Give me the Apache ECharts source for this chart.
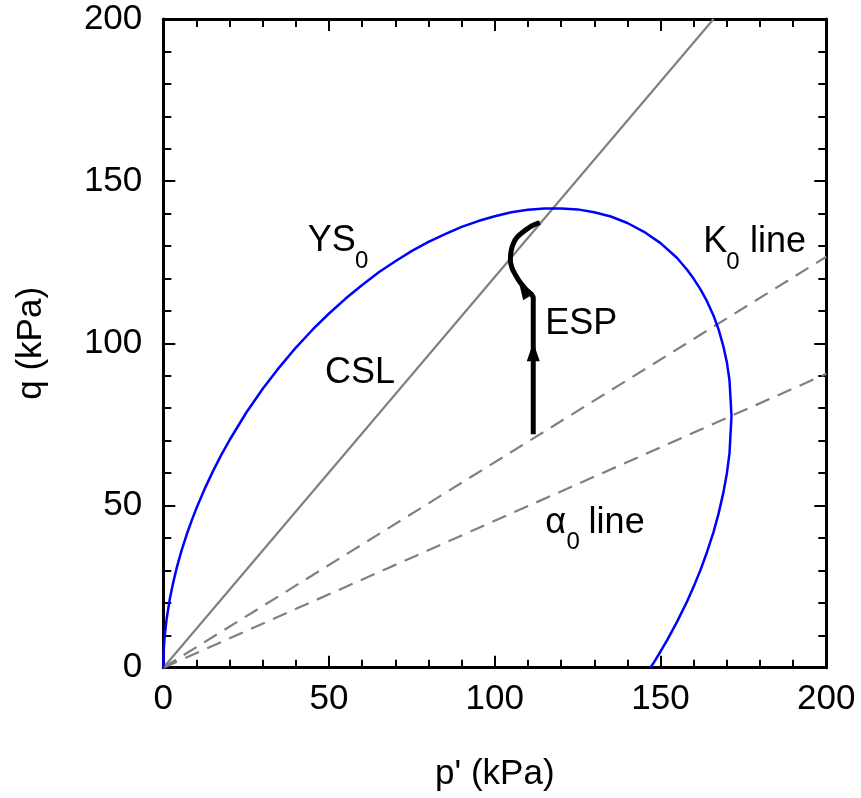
<!DOCTYPE html>
<html>
<head>
<meta charset="utf-8">
<script src="https://cdn.jsdelivr.net/npm/echarts@6/dist/echarts.min.js"></script>
<style>
  html, body { margin: 0; padding: 0; background: #fff; }
  #chart { width: 861px; height: 798px; }
</style>
</head>
<body>
<div id="chart"></div>
<script>
// Stress path in p'-q space

// Critical state line
const cslLine = [[0, 0], [166, 200]];
// K0 consolidation line
const k0Line = [[0, 0], [200, 126.7]];
// Inclination of the initial yield surface
const alphaLine = [[0, 0], [200, 90.6]];

// Initial yield surface YS0 (upper branch, then lower branch back to q = 0)
const ys0Curve = [
  [0, 0], [0.1, 4.6], [0.25, 7.4], [0.5, 10.5], [1, 15.0], [2, 21.4], [3, 26.3],
  [4, 30.6], [5.5, 36.1], [7, 40.9], [8.5, 45.2], [10, 49.2], [12.5, 55.2],
  [15, 60.6], [17.5, 65.6], [20, 70.2], [25, 78.6], [30, 86.0], [35, 92.6],
  [40, 98.7], [45, 104.2], [50, 109.2], [55, 113.8], [60, 118.0], [65, 121.9],
  [70, 125.3], [75, 128.5], [80, 131.3], [85, 133.7], [90, 135.9], [95, 137.7],
  [100, 139.2], [105, 140.4], [110, 141.2], [115, 141.6], [120, 141.6],
  [125, 141.3], [130, 140.4], [135, 139.1], [140, 137.1], [145, 134.4],
  [150, 130.9], [155, 126.3], [158, 122.7], [160, 119.9], [162, 116.7],
  [164, 113.0], [166, 108.5], [167.5, 104.3], [169, 98.9], [170, 94.2],
  [170.8, 88.6], [171.4, 77.6], [170.8, 66.1], [170, 59.9], [169, 54.2],
  [167.5, 47.5], [166, 41.9], [164, 35.6], [162, 30.0], [160, 25.0],
  [158, 20.4], [155, 14.2], [152, 8.5], [150, 5.0], [148, 1.65], [146.9, 0]
];

// Effective stress path
const espPath = [
  [111.6, 72], [111.6, 114], [109.5, 116.5], [107.5, 119], [106.3, 121],
  [105.2, 123.2], [104.7, 125.7], [104.9, 128.3], [105.6, 130.8],
  [106.8, 132.8], [108.6, 134.4], [111.1, 136.2], [113.6, 137.2]
];

// Arrow heads along the stress path: [p', q, heading in degrees]
const espArrows = [[111.6, 97.4, 0], [108.7, 116.8, 32]];

// Tick values
const axisMin = 0, axisMax = 200, majorStep = 50;

// Text annotations: [text, p', q, size class]
const annotations = [
  ['YS', 43.6, 131.6, 'main'], ['0', 57.8, 125.3, 'sub'],
  ['CSL', 48.8, 90.8, 'main'],
  ['ESP', 115.2, 106.0, 'main'],
  ['K', 162.9, 131.3, 'main'], ['0', 169.8, 125.0, 'sub'], ['line', 177.0, 131.3, 'main'],
  ['\u03b1', 115.2, 44.5, 'main'], ['0', 121.6, 38.6, 'sub'], ['line', 128.3, 44.5, 'main']
];

const FONT = '"Liberation Sans", Arial, sans-serif';
const chart = echarts.init(document.getElementById('chart'));

function baseAxis(extra) {
  return Object.assign({
    type: 'value',
    min: axisMin,
    max: axisMax,
    interval: majorStep,
    splitNumber: 4,
    splitLine: { show: false },
    axisLine: { show: true, onZero: false, lineStyle: { color: '#000', width: 3 } },
    axisTick: { show: true, inside: true, length: 12, lineStyle: { color: '#000', width: 2 } },
    minorTick: { show: true, splitNumber: 5, length: 8, lineStyle: { color: '#000', width: 2 } },
    minorSplitLine: { show: false }
  }, extra);
}

const option = {
  animation: false,
  backgroundColor: '#fff',
  grid: { left: 163.3, right: 34.7, top: 19, bottom: 130.3, containLabel: false },
  xAxis: [
    baseAxis({
      position: 'bottom',
      name: "p' (kPa)",
      nameLocation: 'middle',
      nameGap: 89,
      nameTextStyle: { fontFamily: FONT, fontSize: 35, color: '#000', verticalAlign: 'top' },
      axisLabel: { fontFamily: FONT, fontSize: 35, color: '#000', margin: 14 }
    }),
    baseAxis({
      position: 'top',
      axisLabel: { show: false }
    })
  ],
  yAxis: [
    baseAxis({
      position: 'left',
      name: 'q (kPa)',
      nameLocation: 'middle',
      nameGap: 114,
      nameRotate: 90,
      nameTextStyle: { fontFamily: FONT, fontSize: 35, color: '#000' },
      axisLabel: { fontFamily: FONT, fontSize: 35, color: '#000', margin: 21 }
    }),
    baseAxis({
      position: 'right',
      axisLabel: { show: false }
    })
  ],
  series: [
    {
      type: 'line', data: cslLine, symbol: 'none', silent: true,
      lineStyle: { color: '#808080', width: 2.2 }
    },
    {
      type: 'line', data: k0Line, symbol: 'none', silent: true,
      lineStyle: { color: '#808080', width: 2.2, type: [15, 9] }
    },
    {
      type: 'line', data: alphaLine, symbol: 'none', silent: true,
      lineStyle: { color: '#808080', width: 2.2, type: [15, 9] }
    },
    {
      type: 'line', data: ys0Curve, symbol: 'none', silent: true, smooth: false,
      lineStyle: { color: '#0000ff', width: 2.5 }
    },
    {
      type: 'line', data: espPath, symbol: 'none', silent: true, smooth: 0.3,
      lineStyle: { color: '#000', width: 5, join: 'round', cap: 'butt' }
    },
    {
      type: 'scatter', silent: true,
      data: espArrows.map(a => ({ value: [a[0], a[1]], symbolRotate: a[2] })),
      symbol: 'triangle', symbolSize: [13, 19],
      itemStyle: { color: '#000', opacity: 1 }
    }
  ]
};

chart.setOption(option);

// Text labels placed at data coordinates
const graphics = annotations.map(([text, p, q, kind]) => {
  const [x, y] = chart.convertToPixel({ xAxisIndex: 0, yAxisIndex: 0 }, [p, q]);
  return {
    type: 'text',
    x: x,
    y: y,
    silent: true,
    style: {
      text: text,
      fill: '#000',
      font: (kind === 'sub' ? '24px ' : '36px ') + FONT,
      textAlign: 'left',
      textVerticalAlign: 'middle'
    }
  };
});
chart.setOption({ graphic: graphics });
</script>
</body>
</html>
